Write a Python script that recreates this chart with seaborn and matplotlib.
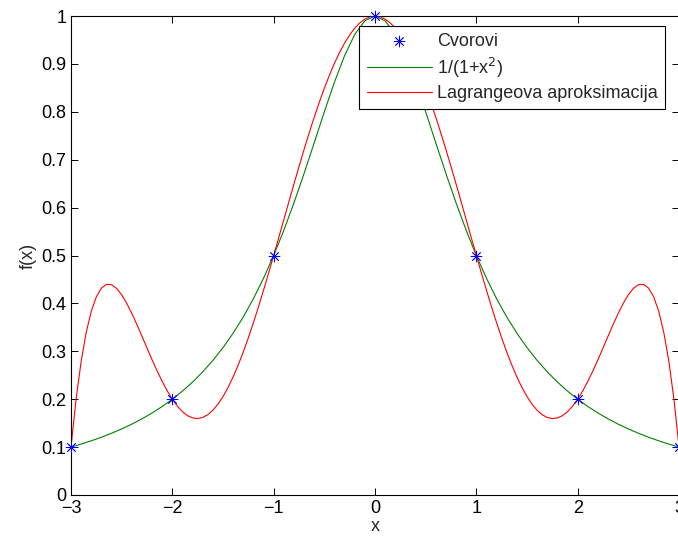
import numpy as np
import pandas as pd
from matplotlib import pyplot as plt
import seaborn as sns

# cvorovi (interpolacijski cvorovi)
node_x = [-3, -2, -1, 0, 1, 2, 3]
node_y = [0.1, 0.2, 0.5, 1.0, 0.5, 0.2, 0.1]

# funkcija 1/(1+x^2), ocitano s korakom 0.1
grid_x = [round(-3 + 0.1 * i, 2) for i in range(61)]
f_vals = [0.1, 0.1063, 0.1131, 0.1206, 0.1289, 0.1379, 0.1479, 0.1590, 0.1712, 0.1848,
          0.2, 0.2169, 0.2358, 0.2571, 0.2809, 0.3077, 0.3378, 0.3717, 0.4098, 0.4525,
          0.5, 0.5525, 0.6098, 0.6711, 0.7353, 0.8, 0.8621, 0.9174, 0.9615, 0.9901,
          1.0,
          0.9901, 0.9615, 0.9174, 0.8621, 0.8, 0.7353, 0.6711, 0.6098, 0.5525, 0.5,
          0.4525, 0.4098, 0.3717, 0.3378, 0.3077, 0.2809, 0.2571, 0.2358, 0.2169, 0.2,
          0.1848, 0.1712, 0.1590, 0.1479, 0.1379, 0.1289, 0.1206, 0.1131, 0.1063, 0.1]

# Lagrangeova aproksimacija, ocitano s korakom 0.05
fine_x = [round(-3 + 0.05 * i, 2) for i in range(121)]
lag_vals = [0.1, 0.1997, 0.2785, 0.3390, 0.3834, 0.4137, 0.4318, 0.4398, 0.4391, 0.4313,
            0.4180, 0.4002, 0.3792, 0.3561, 0.3317, 0.3069, 0.2824, 0.2590, 0.2372, 0.2173,
            0.2, 0.1855, 0.1740, 0.1657, 0.1609, 0.1596, 0.1618, 0.1676, 0.1769, 0.1895,
            0.2055, 0.2245, 0.2465, 0.2713, 0.2985, 0.3281, 0.3596, 0.3928, 0.4275, 0.4633,
            0.5, 0.5372, 0.5747, 0.6121, 0.6492, 0.6857, 0.7212, 0.7556, 0.7886, 0.8198,
            0.8492, 0.8765, 0.9014, 0.9238, 0.9436, 0.9606, 0.9746, 0.9857, 0.9936, 0.9984,
            1.0,
            0.9984, 0.9936, 0.9857, 0.9746, 0.9606, 0.9436, 0.9238, 0.9014, 0.8765, 0.8492,
            0.8198, 0.7886, 0.7556, 0.7212, 0.6857, 0.6492, 0.6121, 0.5747, 0.5372, 0.5,
            0.4633, 0.4275, 0.3928, 0.3596, 0.3281, 0.2985, 0.2713, 0.2465, 0.2245, 0.2055,
            0.1895, 0.1769, 0.1676, 0.1618, 0.1596, 0.1609, 0.1657, 0.1740, 0.1855, 0.2,
            0.2173, 0.2372, 0.2590, 0.2824, 0.3069, 0.3317, 0.3561, 0.3792, 0.4002, 0.4180,
            0.4313, 0.4391, 0.4398, 0.4318, 0.4137, 0.3834, 0.3390, 0.2785, 0.1997, 0.1]

x_ticks = [-3, -2, -1, 0, 1, 2, 3]
y_ticks = [0, 0.1, 0.2, 0.3, 0.4, 0.5, 0.6, 0.7, 0.8, 0.9, 1]
y_tick_labels = ["0", "0.1", "0.2", "0.3", "0.4", "0.5", "0.6", "0.7", "0.8", "0.9", "1"]

sns.set_style("ticks")
plt.rcParams['font.family'] = ['Liberation Sans', 'DejaVu Sans']
plt.rcParams['font.size'] = 13

fig = plt.figure(figsize=(6.78, 5.43), dpi=100)
ax = fig.add_axes([0.1047, 0.0884, 0.8968, 0.8821])

curve_f = pd.DataFrame({"x": grid_x, "y": f_vals})
curve_p = pd.DataFrame({"x": fine_x, "y": lag_vals})
nodes = pd.DataFrame({"x": node_x, "y": node_y})

sns.lineplot(data=curve_f, x="x", y="y", color=(0, 0.5, 0), linewidth=0.8,
             label="1/(1+x$^2$)", ax=ax, zorder=2)
sns.lineplot(data=curve_p, x="x", y="y", color="red", linewidth=0.8,
             label="Lagrangeova aproksimacija", ax=ax, zorder=2)
sns.scatterplot(data=nodes, x="x", y="y", marker=(8, 2, 0), s=60, color="blue",
                linewidth=0.6, label="Cvorovi", ax=ax, zorder=3, clip_on=False)

ax.set_xlim(-3, 3)
ax.set_ylim(0, 1)
ax.set_xticks(x_ticks)
ax.set_yticks(y_ticks)
ax.set_yticklabels(y_tick_labels)
ax.tick_params(direction="in", top=True, right=True, length=5, width=0.7,
               labelsize=13, colors="black")
for sp in ax.spines.values():
    sp.set_visible(True)
    sp.set_linewidth(0.8)
    sp.set_color("black")
ax.set_xlabel("x", fontsize=13, labelpad=1)
ax.set_ylabel("f(x)", fontsize=13, labelpad=3)

handles, labels = ax.get_legend_handles_labels()
order = [labels.index("Cvorovi"), labels.index("1/(1+x$^2$)"),
         labels.index("Lagrangeova aproksimacija")]
leg = ax.legend([handles[i] for i in order], [labels[i] for i in order],
                loc="upper right", bbox_to_anchor=(665 / 678, 1 - 26 / 543),
                bbox_transform=fig.transFigure, fancybox=False, framealpha=1,
                edgecolor="black", handlelength=3.6, handletextpad=0.3,
                borderpad=0.4, labelspacing=0.3, borderaxespad=0, fontsize=13)
leg.get_frame().set_linewidth(0.8)

fig.savefig("out.png", dpi=100)
